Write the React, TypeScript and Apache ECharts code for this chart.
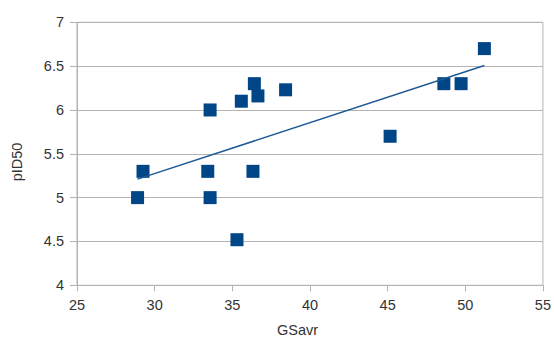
import React, { useEffect, useRef } from "react";
import * as echarts from "echarts";

const gsavr = [28.9, 29.25, 33.42, 33.57, 33.57, 35.3, 36.33, 35.58, 36.42, 36.65, 38.43, 45.16, 48.62, 49.73, 51.23];
const pid50 = [5.0, 5.3, 5.3, 5.0, 6.0, 4.52, 5.3, 6.1, 6.3, 6.16, 6.23, 5.7, 6.3, 6.3, 6.7];
const xTicks = { min: 25, max: 55, interval: 5 };
const yTicks = { min: 4, max: 7, interval: 0.5 };
const xTitle = "GSavr";
const yTitle = "pID50";

function regression(xs: number[], ys: number[]) {
  const n = xs.length;
  const mx = xs.reduce((a, b) => a + b, 0) / n;
  const my = ys.reduce((a, b) => a + b, 0) / n;
  let sxy = 0, sxx = 0;
  for (let i = 0; i < n; i++) {
    sxy += (xs[i] - mx) * (ys[i] - my);
    sxx += (xs[i] - mx) * (xs[i] - mx);
  }
  const slope = sxy / sxx;
  const b = my - slope * mx;
  const x0 = Math.min(...xs), x1 = Math.max(...xs);
  return [[x0, b + slope * x0], [x1, b + slope * x1]];
}

export default function App() {
  const ref = useRef<HTMLDivElement>(null);
  useEffect(() => {
    if (!ref.current) return;
    const chart = echarts.init(ref.current, null, { renderer: "svg" });
    const font = "'Liberation Sans', Arial, sans-serif";
    const gray = "#b3b3b3";
    const txt = { fontFamily: font, fontSize: 14.5, color: "#333333" };
    chart.setOption({
      animation: false,
      backgroundColor: "#ffffff",
      grid: { left: 77, top: 22.3, width: 467.5, height: 263, show: true, borderColor: gray, borderWidth: 1 },
      graphic: [
        {
          type: "text",
          x: 297.5, y: 337.5,
          style: { text: xTitle, font: `14.5px ${font}`, fill: "#333333", align: "center", verticalAlign: "bottom" },
        },
        {
          type: "text",
          x: 17, y: 162, rotation: Math.PI / 2,
          style: { text: yTitle, font: `14.5px ${font}`, fill: "#333333", align: "center", verticalAlign: "middle" },
        },
      ],
      xAxis: {
        type: "value",
        min: xTicks.min, max: xTicks.max, interval: xTicks.interval,
        axisLine: { show: true, lineStyle: { color: gray } },
        axisTick: { show: true, length: 6, lineStyle: { color: gray } },
        axisLabel: { ...txt, margin: 12 },
        splitLine: { show: false },
      },
      yAxis: {
        type: "value",
        min: yTicks.min, max: yTicks.max, interval: yTicks.interval,
        axisLine: { show: true, lineStyle: { color: gray } },
        axisTick: { show: true, length: 7, lineStyle: { color: gray } },
        axisLabel: { ...txt, margin: 13 },
        splitLine: { show: true, lineStyle: { color: gray } },
      },
      series: [
        {
          type: "scatter",
          symbol: "rect",
          symbolSize: 13,
          itemStyle: { color: "#004586", opacity: 1 },
          data: gsavr.map((x, i) => [x, pid50[i]]),
          z: 3,
        },
        {
          type: "line",
          data: regression(gsavr, pid50),
          symbol: "none",
          lineStyle: { color: "#1f5a96", width: 1.5 },
          z: 4,
        },
      ],
    });
    return () => chart.dispose();
  }, []);
  return <div ref={ref} style={{ position: "fixed", left: 0, top: 0, width: 554, height: 338 }} />;
}
